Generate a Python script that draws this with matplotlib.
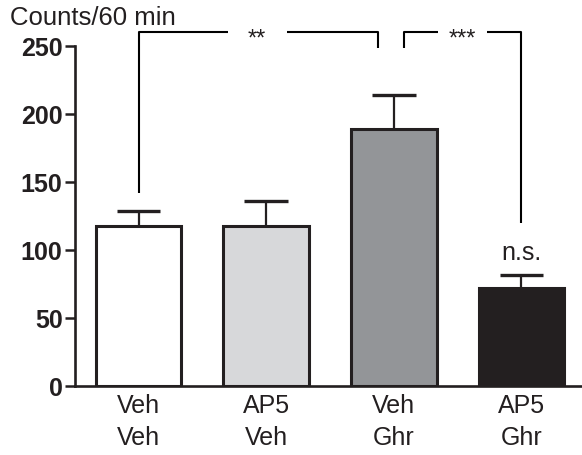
import matplotlib
matplotlib.use('Agg')
import numpy as np
import matplotlib.pyplot as plt

plt.rcParams['font.family'] = ['Liberation Sans', 'DejaVu Sans']

# data
groups = ['Veh\nVeh', 'AP5\nVeh', 'Veh\nGhr', 'AP5\nGhr']
counts = [117.6, 117.6, 188.7, 71.6]
sem = [11.0, 18.5, 25.0, 10.0]
bar_colors = ['#ffffff', '#d7d8da', '#939598', '#231f20']
y_ticks = [0, 50, 100, 150, 200, 250]

# significance brackets: (left x, right x, left leg bottom, right leg bottom, label, gap)
bracket_top = 260
brackets = [
    (0, 1.875, 142, 248, '**', (0.70, 1.16)),
    (2.08, 3, 248, 119.5, '***', (2.345, 2.73)),
]

fig = plt.figure(figsize=(5.82, 4.56), dpi=100)
ax = fig.add_axes([0.129, 0.152, 0.869, 0.7456])

x = np.arange(len(groups))
bar_w = 0.67
cap_half = 0.172
ink = '#231f20'

ax.bar(x, counts, width=bar_w, color=bar_colors, edgecolor=ink, linewidth=2.2, zorder=2)
# upper error bars only
tops = np.array(counts) + np.array(sem)
ax.vlines(x, counts, tops, color=ink, linewidth=1.6, zorder=1)
ax.hlines(tops, x - cap_half, x + cap_half, color=ink, linewidth=2.4, zorder=1)

ax.set_xlim(-0.497, 3.465)
ax.set_ylim(0, 250)
ax.set_yticks(y_ticks)
ax.set_yticklabels([str(t) for t in y_ticks], fontsize=18, fontweight='bold', color=ink)
ax.set_xticks(x)
ax.set_xticklabels(groups, fontsize=18, color=ink, linespacing=1.45)
ax.tick_params(axis='x', length=0, pad=5)
ax.tick_params(axis='y', length=7, width=1.8, color=ink, pad=2)

for side in ['top', 'right']:
    ax.spines[side].set_visible(False)
for side in ['left', 'bottom']:
    ax.spines[side].set_linewidth(1.9)
    ax.spines[side].set_color(ink)

# brackets with star labels
for x0, x1, y0, y1, label, gap in brackets:
    kw = dict(color='black', linewidth=1.5, clip_on=False, solid_capstyle='butt')
    ax.plot([x0, x0, gap[0]], [y0, bracket_top, bracket_top], **kw)
    ax.plot([gap[1], x1, x1], [bracket_top, bracket_top, y1], **kw)
    ax.text((gap[0] + gap[1]) / 2, bracket_top - 5, label, ha='center', va='center',
            fontsize=17, color=ink, clip_on=False)

ax.text(3, 98, 'n.s.', ha='center', va='center', fontsize=18, color=ink)

fig.text(10 / 582, 1 - 25 / 456, 'Counts/60 min', fontsize=18.5, color=ink,
         ha='left', va='baseline')

fig.savefig('out.png', dpi=100)
